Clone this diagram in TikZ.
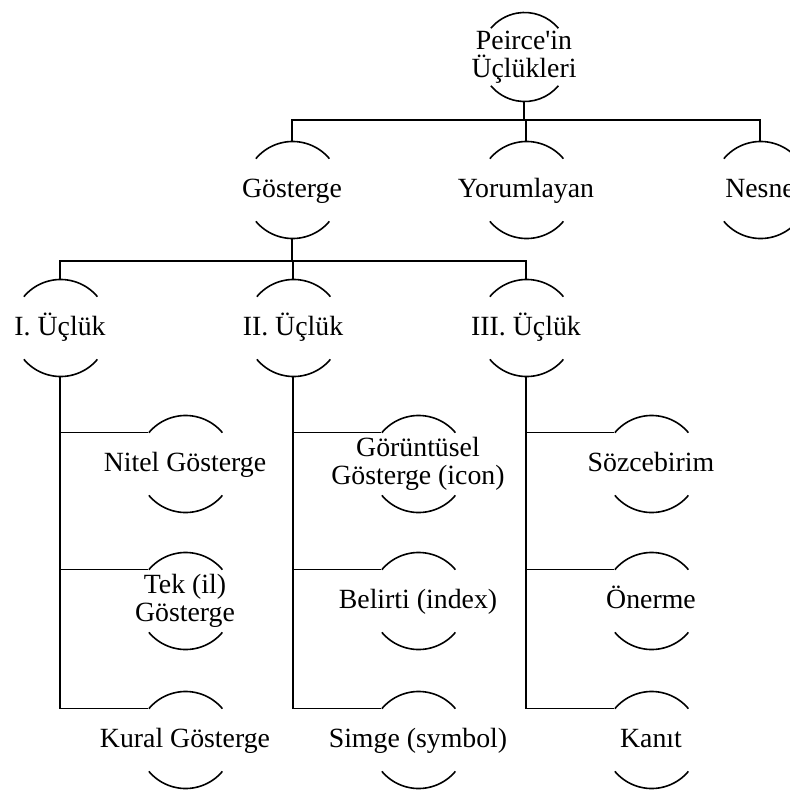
\documentclass[tikz,border=0pt]{standalone}
\usepackage{fontspec}
\setmainfont{Liberation Serif}
\begin{document}
\begin{tikzpicture}[x=0.5pt,y=-0.5pt,line width=0.8pt,
  ucluk/.style={circle,minimum size=48pt,inner sep=0pt},
  lbl/.style={align=center,font=\fontsize{13.9}{14}\selectfont},
  tek/.style={lbl,text height=10.5pt,text depth=3pt}]
\useasboundingbox (0,0) rectangle (790,793);
\node[ucluk,minimum size=44pt,label={[lbl]center:{Peirce\textquotesingle in\\Üçlükleri}}] (peirce) at (524,57) {};
\node[ucluk,label={[tek]center:Gösterge}] (gos) at (292,190) {};
\node[ucluk,label={[tek]center:Yorumlayan}] (yor) at (526,190) {};
\node[ucluk,label={[tek]center:Nesne}] (nes) at (760,190) {};
\node[ucluk,label={[tek]center:I. Üçlük}] (u1) at (60,328) {};
\node[ucluk,label={[tek]center:II. Üçlük}] (u2) at (293,328) {};
\node[ucluk,label={[tek]center:III. Üçlük}] (u3) at (526,328) {};
\node[ucluk,label={[tek]center:Nitel Gösterge}] (nitel) at (185,464) {};
\node[ucluk,label={[lbl]center:{Tek (il)\\Gösterge}}] (tekil) at (185,601) {};
\node[ucluk,label={[tek]center:Kural Gösterge}] (kural) at (185,740) {};
\node[ucluk,label={[lbl]center:{Görüntüsel\\Gösterge (icon)}}] (ikon) at (418,464) {};
\node[ucluk,label={[tek]center:Belirti (index)}] (belirti) at (418,601) {};
\node[ucluk,label={[tek]center:Simge (symbol)}] (simge) at (418,740) {};
\node[ucluk,label={[tek]center:Sözcebirim}] (soz) at (651,464) {};
\node[ucluk,label={[tek]center:Önerme}] (oner) at (651,601) {};
\node[ucluk,label={[tek]center:Kanıt}] (kanit) at (651,740) {};
\foreach \n/\r in {peirce/22pt,gos/24pt,yor/24pt,nes/24pt,u1/24pt,u2/24pt,u3/24pt,
  nitel/24pt,tekil/24pt,kural/24pt,ikon/24pt,belirti/24pt,simge/24pt,soz/24pt,oner/24pt,kanit/24pt}{
  \draw (\n.40) arc[start angle=40,end angle=140,radius=\r];
  \draw (\n.-40) arc[start angle=-40,end angle=-140,radius=\r];
}
\draw (peirce.south) -- ++(0,18) -| (gos.north);
\draw (peirce.south) -- ++(0,18) -| (yor.north);
\draw (peirce.south) -- ++(0,18) -| (nes.north);
\draw (gos.south) -- ++(0,22) -| (u1.north);
\draw (gos.south) -- ++(0,22) -| (u2.north);
\draw (gos.south) -- ++(0,22) -| (u3.north);
\draw (u1.south) |- (nitel.140);
\draw (u1.south) |- (tekil.140);
\draw (u1.south) |- (kural.140);
\draw (u2.south) |- (ikon.140);
\draw (u2.south) |- (belirti.140);
\draw (u2.south) |- (simge.140);
\draw (u3.south) |- (soz.140);
\draw (u3.south) |- (oner.140);
\draw (u3.south) |- (kanit.140);
\end{tikzpicture}
\end{document}
